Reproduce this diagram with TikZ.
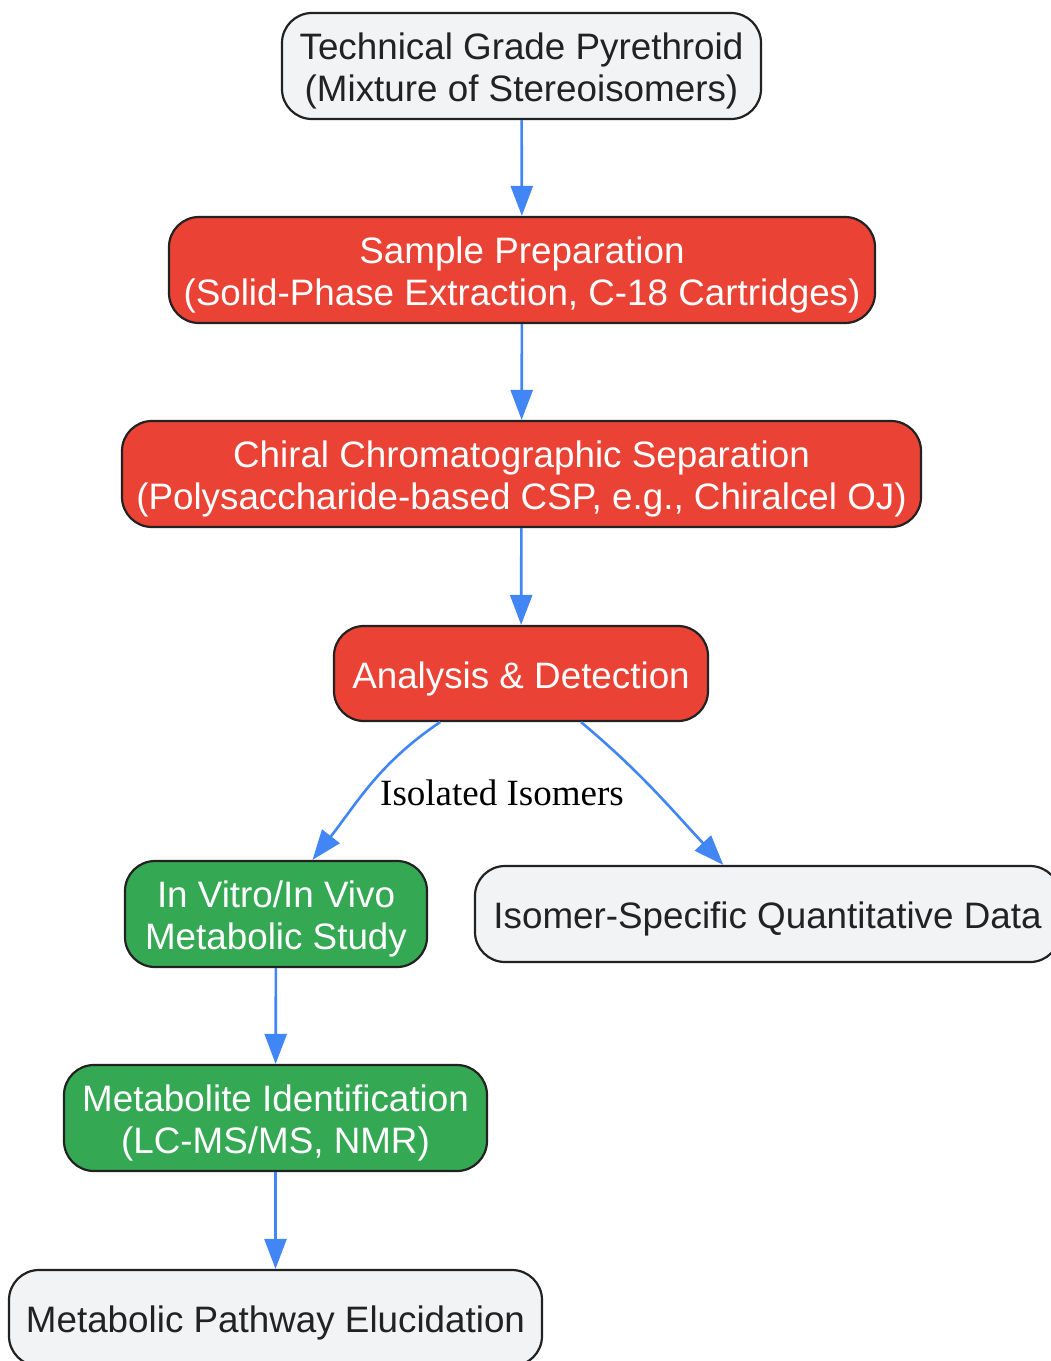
\documentclass[tikz,border=0pt]{standalone}
\usepackage{fontspec}
\setmainfont{Liberation Sans}
\newfontfamily\labelfont{Liberation Serif}
\usetikzlibrary{arrows.meta}
\definecolor{boxgrey}{HTML}{F2F3F5}
\definecolor{boxred}{HTML}{EA4335}
\definecolor{boxgreen}{HTML}{34A853}
\definecolor{edgeblue}{HTML}{4285F4}
\definecolor{inkdark}{HTML}{222222}
\tikzset{
  stage/.style={draw=inkdark, line width=2.2pt, rounded corners=30pt, align=center,
    font=\fontsize{36.8}{42}\selectfont, inner xsep=6pt, minimum height=106pt,
    execute at begin node={\rule{0pt}{37.5pt}}},
  twoline/.style={execute at begin node={\rule{0pt}{79.5pt}}},
  plain/.style={stage, fill=boxgrey, text=inkdark},
  lab/.style={stage, fill=boxred, text=white},
  bio/.style={stage, fill=boxgreen, text=white},
  flow/.style={draw=edgeblue, line width=2.6pt, -{Triangle[length=30pt,width=22pt]}}
}
\begin{document}
\begin{tikzpicture}[x=1pt,y=-1pt]
        \useasboundingbox (0,0) rectangle (1051,1361);
        \node[plain, twoline, minimum width=479pt](tech) at (521.5,66) {Technical Grade Pyrethroid\\(Mixture of Stereoisomers)};
        \node[lab, twoline, minimum width=706pt](prep) at (522,270) {Sample Preparation\\(Solid-Phase Extraction, C-18 Cartridges)};
        \node[lab, twoline, minimum width=799pt](chiral) at (521.5,474) {Chiral Chromatographic Separation\\(Polysaccharide-based CSP, e.g., Chiralcel OJ)};
        \node[lab, minimum width=374pt, minimum height=95pt](detect) at (521,673.5) {Analysis \& Detection};
        \node[bio, twoline, minimum width=302pt](study) at (276,914) {In Vitro/In Vivo\\Metabolic Study};
        \node[plain, minimum width=585pt, minimum height=96pt](quant) at (767.5,914) {Isomer-Specific Quantitative Data};
        \node[bio, twoline, minimum width=423pt](ident) at (275.5,1118) {Metabolite Identification\\(LC-MS/MS, NMR)};
        \node[plain, minimum width=533pt, minimum height=96pt](path) at (275.5,1318) {Metabolic Pathway Elucidation};
        \node[font=\labelfont\fontsize{37}{42}\selectfont](iso) at (502,793) {Isolated Isomers};
        \draw[flow](tech)--(prep);
        \draw[flow](prep)--(chiral);
        \draw[flow](chiral)--(detect);
        \draw[flow](detect.-149) to[out=214, in=52] (study.56);
        \draw[flow](detect.-39) to[out=-40, in=133] (quant.132);
        \draw[flow](study)--(ident);
        \draw[flow](ident)--(path);
        \end{tikzpicture}
\end{document}
